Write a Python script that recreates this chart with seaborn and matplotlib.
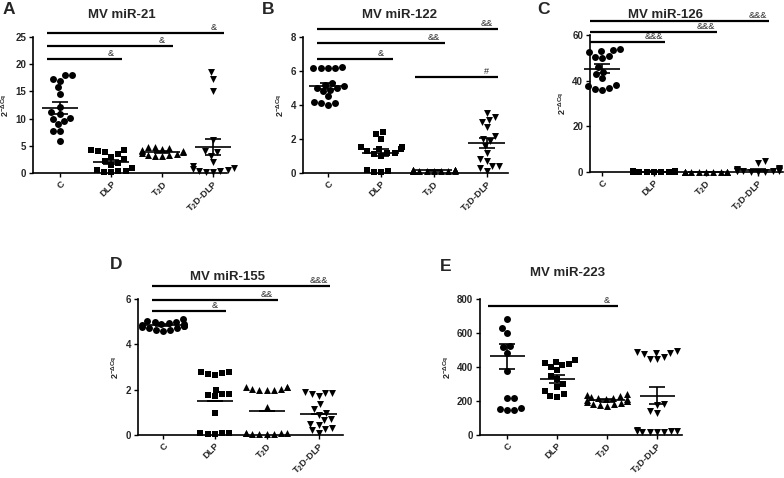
import numpy as np
import pandas as pd
import matplotlib
matplotlib.use("Agg")
import matplotlib.pyplot as plt
import seaborn as sns

# groups shown on every panel
groups = ["C", "DLP", "T2D", "T2D-DLP"]
group_labels = ["C", "DLP", r"T$_\mathbf{2}$D", r"T$_\mathbf{2}$D-DLP"]
markers = ["o", "s", "^", "v"]

# Panel A: MV miR-21
a_c = [18.0, 18.0, 17.0, 17.2, 15.8, 14.6, 12.2, 11.2, 10.8, 10.2, 10.0, 9.6, 9.0, 7.8, 7.8, 5.8]
a_dlp = [4.2, 4.0, 4.2, 3.8, 3.5, 3.0, 2.5, 2.2, 1.8, 1.5, 1.0, 0.5, 0.3, 0.2, 0.1, 0.4]
a_t2d = [4.7, 4.7, 4.6, 4.5, 4.2, 4.0, 3.9, 3.6, 3.4, 3.3, 3.2, 3.2, 3.5, 4.0]
a_t2ddlp = [18.5, 17.3, 15.0, 6.0, 4.0, 3.8, 3.2, 2.0, 1.2, 1.0, 0.8, 0.5, 0.3, 0.3, 0.2, 0.2]
a_mean = [11.9, 2.0, 3.9, 4.8]
a_sem = [1.1, 0.35, 0.15, 1.5]

# Panel B: MV miR-122
b_c = [6.2, 6.2, 6.25, 6.2, 6.2, 5.3, 5.2, 5.1, 5.0, 5.0, 4.9, 4.8, 4.5, 4.2, 4.1, 4.0, 4.1]
b_dlp = [2.4, 2.3, 2.0, 1.5, 1.5, 1.4, 1.4, 1.3, 1.2, 1.2, 1.1, 1.0, 0.2, 0.1, 0.05, 0.05]
b_t2d = [0.15, 0.12, 0.18, 0.1, 0.14, 0.2, 0.16, 0.1, 0.12, 0.18, 0.15, 0.13, 0.17, 0.11, 0.14]
b_t2ddlp = [3.5, 3.3, 3.1, 3.0, 2.7, 2.2, 2.0, 1.9, 1.6, 1.2, 0.8, 0.7, 0.4, 0.4, 0.3, 0.1]
b_mean = [5.12, 1.2, 0.15, 1.75]
b_sem = [0.2, 0.2, 0.01, 0.3]

# Panel C: MV miR-126
c_c = [54, 53.5, 53, 52.5, 51, 50.5, 50, 46, 44, 43, 41, 38, 37.5, 37, 36.5, 36]
c_dlp = [0.3, 0.2, 0.1, 0.4, 0.2, 0.1, 0.3, 0.2, 0.1, 0.2, 0.3, 0.1, 0.2, 0.4, 0.1]
c_t2d = [0.05, 0.04, 0.06, 0.05, 0.03, 0.05, 0.06, 0.04, 0.05, 0.03, 0.05, 0.04]
c_t2ddlp = [4.8, 3.8, 1.8, 1.5, 1.2, 1.0, 0.8, 0.6, 0.5, 0.4, 0.3, 0.3, 0.2, 0.2, 0.1]
c_mean = [45.3, 0.2, 0.05, 0.8]
c_sem = [2.0, 0.05, 0.01, 0.4]

# Panel D: MV miR-155
d_c = [5.1, 5.05, 5.0, 5.0, 4.95, 4.9, 4.9, 4.85, 4.8, 4.8, 4.75, 4.7, 4.7, 4.65, 4.6, 4.65]
d_dlp = [2.8, 2.8, 2.7, 2.65, 2.75, 2.0, 1.8, 1.8, 1.7, 1.75, 0.95, 0.1, 0.05, 0.1, 0.1, 0.05]
d_t2d = [2.1, 2.05, 2.1, 2.0, 2.05, 2.1, 2.0, 2.0, 1.25, 0.1, 0.05, 0.1, 0.05, 0.1, 0.05, 0.1, 0.05]
d_t2ddlp = [1.85, 1.8, 1.85, 1.9, 1.7, 1.35, 1.15, 0.95, 0.9, 0.7, 0.65, 0.45, 0.5, 0.3, 0.25, 0.2, 0.1]
d_mean = [4.85, 1.52, 1.08, 0.91]
d_sem = [0.04, 0.0, 0.0, 0.0]

# Panel E: MV miR-223
e_c = [685, 630, 600, 525, 520, 485, 375, 215, 215, 160, 150, 148, 155]
e_dlp = [440, 430, 420, 425, 410, 400, 380, 350, 330, 300, 280, 260, 240, 230, 225]
e_t2d = [240, 235, 230, 225, 220, 215, 210, 205, 200, 200, 195, 190, 185, 180, 175, 170, 210]
e_t2ddlp = [495, 490, 485, 480, 475, 460, 450, 445, 180, 175, 140, 130, 30, 25, 25, 20, 20, 25, 20, 15]
e_mean = [462, 330, 205, 232]
e_sem = [73, 22, 8, 50]

# significance bars: (start, target group, height, label)
a_bars = [(-0.25, 1, 21.0, "&"), (-0.25, 2, 23.3, "&"), (-0.25, 3, 25.7, "&")]
b_bars = [(-0.2, 1, 6.7, "&"), (-0.2, 2, 7.65, "&&"), (-0.2, 3, 8.47, "&&"), (1.65, 3, 5.63, "#")]
c_bars = [(-0.23, 1, 57.0, "&&&"), (-0.23, 2, 61.3, "&&&"), (-0.23, 3, 66.1, "&&&")]
d_bars = [(-0.21, 1, 5.47, "&"), (-0.21, 2, 5.96, "&&"), (-0.21, 3, 6.57, "&&&")]
e_bars = [(-0.38, 2, 759, "&")]

sns.set_theme(style="ticks")
plt.rcParams["font.family"] = ["Liberation Sans", "DejaVu Sans"]
plt.rcParams["mathtext.fontset"] = "custom"
plt.rcParams["mathtext.rm"] = "Liberation Sans"
plt.rcParams["mathtext.bf"] = "Liberation Sans:bold"
plt.rcParams["mathtext.it"] = "Liberation Sans:italic"

W, H = 784, 478
fig = plt.figure(figsize=(W / 100, H / 100), dpi=100)

panels = [
    # letter, title, values, mean, sem, bars, yticks, box px (left, right, top, bottom), xlim, title px, letter px
    ("A", "MV miR-21", [a_c, a_dlp, a_t2d, a_t2ddlp], a_mean, a_sem, a_bars,
     [0, 5, 10, 15, 20, 25], (33, 227, 37, 173), (-0.53, 3.27), (122, 15), (3, 2)),
    ("B", "MV miR-122", [b_c, b_dlp, b_t2d, b_t2ddlp], b_mean, b_sem, b_bars,
     [0, 2, 4, 6, 8], (303, 508, 37, 173), (-0.47, 3.40), (400, 15), (262, 2)),
    ("C", "MV miR-126", [c_c, c_dlp, c_t2d, c_t2ddlp], c_mean, c_sem, c_bars,
     [0, 20, 40, 60], (590, 783, 35, 172), (-0.23, 3.48), (665, 15), (537, 2)),
    ("D", "MV miR-155", [d_c, d_dlp, d_t2d, d_t2ddlp], d_mean, d_sem, d_bars,
     [0, 2, 4, 6], (138, 343, 299, 435), (-0.48, 3.47), (228, 277), (110, 257)),
    ("E", "MV miR-223", [e_c, e_dlp, e_t2d, e_t2ddlp], e_mean, e_sem, e_bars,
     [0, 200, 400, 600, 800], (480, 682, 299, 435), (-0.54, 3.5), (568, 273), (440, 259)),
]

for letter, title, values, means, sems, bars, yticks, box, xlim, tpos, lpos in panels:
    left, right, top, bottom = box
    ax = fig.add_axes([left / W, 1 - bottom / H, (right - left) / W, (bottom - top) / H])

    df = pd.DataFrame({
        "group": np.repeat(groups, [len(v) for v in values]),
        "value": np.concatenate(values),
    })
    for g, m in zip(groups, markers):
        sns.swarmplot(data=df[df["group"] == g], x="group", y="value", order=groups,
                      marker=m, color="black", size=5, linewidth=0, ax=ax,
                      warn_thresh=1.0)
    for coll in ax.collections:
        coll.set_clip_on(False)

    for i, (mu, se) in enumerate(zip(means, sems)):
        ax.hlines(mu, i - 0.35, i + 0.35, color="black", lw=1.2, clip_on=False, zorder=3)
        ax.errorbar(i, mu, yerr=se, color="black", lw=1.2, capsize=6, capthick=1.2,
                    clip_on=False, zorder=3)

    for x0, tgt, yv, lab in bars:
        ax.plot([x0, tgt + 0.22], [yv, yv], color="black", lw=1.6, clip_on=False,
                solid_capstyle="butt")
        ax.annotate(lab, (tgt, yv), xytext=(0, 0.8), textcoords="offset points",
                    ha="center", va="bottom", fontsize=6.5, annotation_clip=False)

    ax.set_xlim(*xlim)
    ax.set_ylim(yticks[0], yticks[-1])
    ax.set_yticks(yticks)
    ax.set_xticks(range(len(groups)))
    ax.set_xticklabels(group_labels, rotation=45, ha="right", rotation_mode="anchor")
    ax.set_xlabel("")
    ax.set_ylabel(r"2$^{\mathregular{-\Delta Cq}}$", fontsize=6.5, fontweight="bold", labelpad=3)
    ax.tick_params(axis="y", labelsize=7, length=3, width=1, color="black", pad=2)
    ax.tick_params(axis="x", labelsize=6.7, length=3, width=1, color="black", pad=1.5)
    for lbl in ax.get_xticklabels() + ax.get_yticklabels():
        lbl.set_fontweight("bold")
    sns.despine(ax=ax)
    for sp in ["left", "bottom"]:
        ax.spines[sp].set_linewidth(1.2)
        ax.spines[sp].set_color("black")

    fig.text(tpos[0] / W, 1 - tpos[1] / H, title, ha="center", va="center",
             fontsize=9.5, fontweight="bold")
    fig.text(lpos[0] / W, 1 - lpos[1] / H, letter, ha="left", va="top",
             fontsize=12.5, fontweight="bold")

fig.savefig("out.png", dpi=100)
